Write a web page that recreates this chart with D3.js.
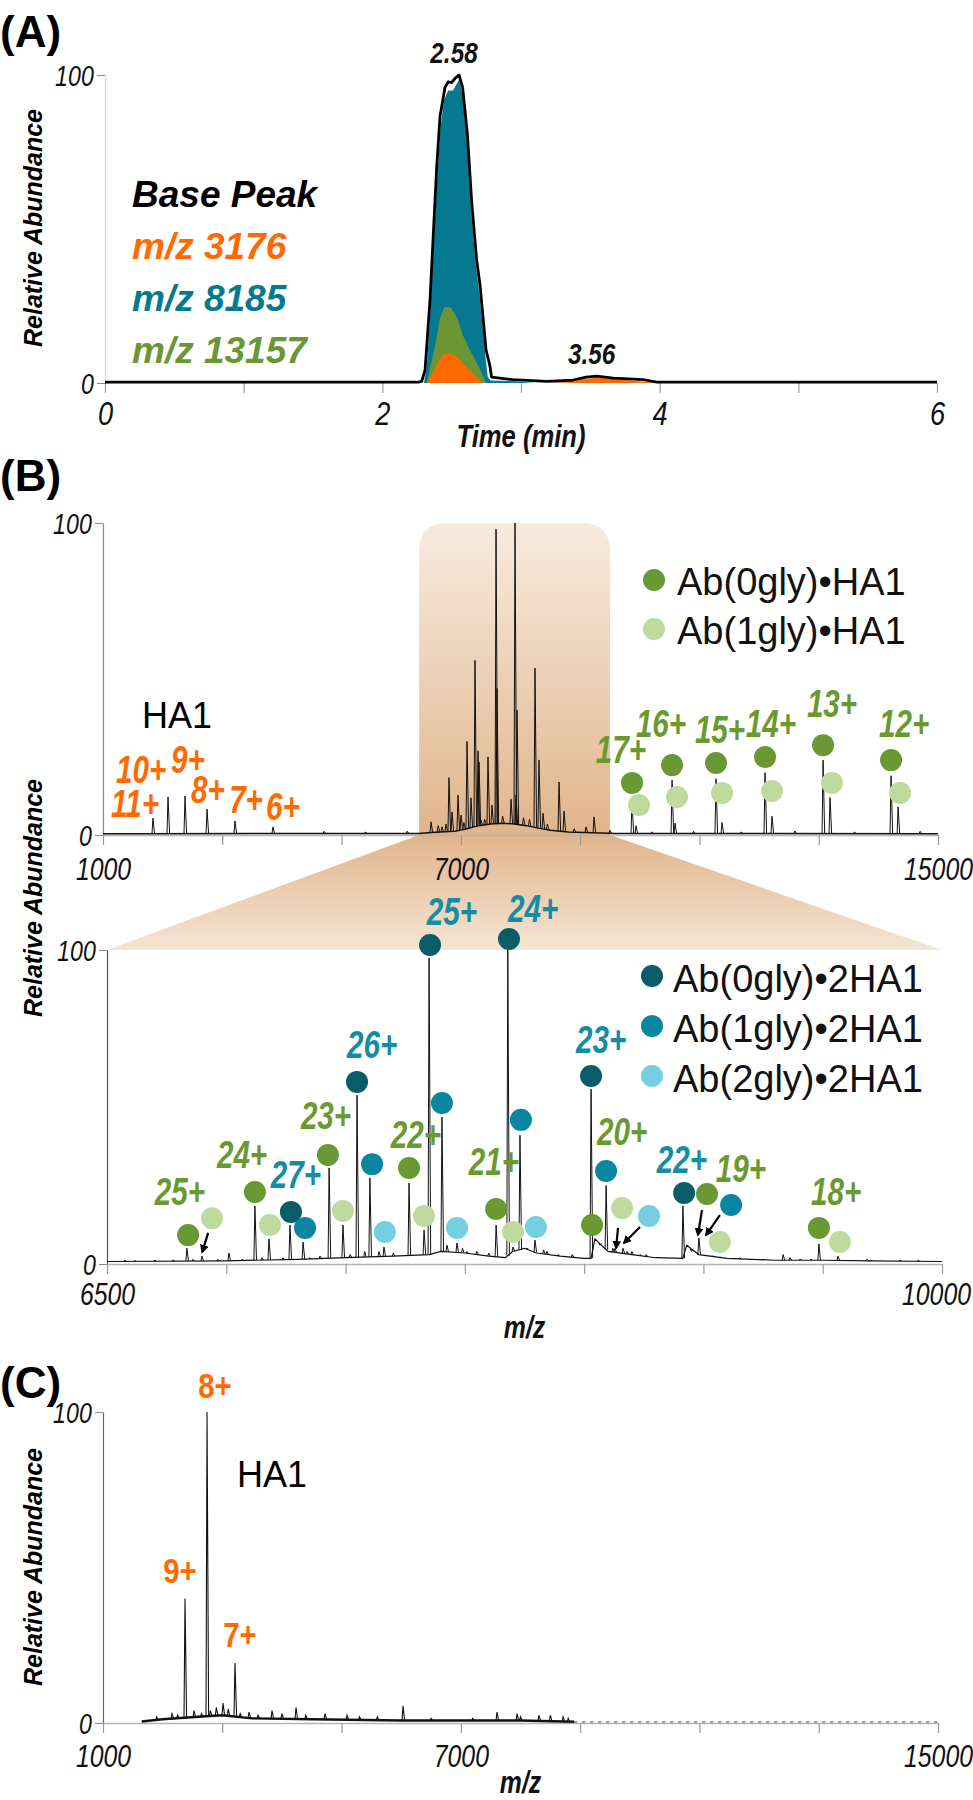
<!DOCTYPE html>
<html>
<head>
<meta charset="utf-8">
<script src="https://cdn.jsdelivr.net/npm/d3@7"></script>
<style>
  body { margin: 0; background: #fff; }
  svg { display: block; }
</style>
</head>
<body>
<div id="chart"></div>
<script>
// ---------------- data ----------------

// (A) extracted chromatograms: time (min) / relative abundance
const basePeakTime = [0, 2.26, 2.284, 2.308, 2.344, 2.368, 2.392, 2.416, 2.452, 2.476, 2.50, 2.524, 2.553, 2.579, 2.613, 2.644, 2.68, 2.704, 2.748, 2.776, 2.788, 2.94, 3.185, 3.375, 3.47, 3.546, 3.665, 3.88, 3.98, 6];
const basePeakAbund = [0.3, 0.3, 0.5, 4.2, 27, 48.7, 70, 86.5, 96, 97.8, 97.5, 98.9, 100, 96, 81, 59, 40, 32, 10.7, 5.5, 1.9, 1.1, 0.5, 0.9, 1.9, 2.2, 1.6, 1.1, 0.3, 0.3];
const mz8185Time = [2.30, 2.32, 2.345, 2.37, 2.395, 2.42, 2.445, 2.475, 2.51, 2.535, 2.555, 2.58, 2.61, 2.64, 2.675, 2.70, 2.745, 2.76, 2.78, 2.95, 3.1];
const mz8185Abund = [0, 5, 22, 45, 66, 83, 92, 95, 95, 97, 98.5, 93, 78, 56, 38, 29, 8, 2, 0.8, 0.6, 0];
const mz13157Time = [2.32, 2.38, 2.416, 2.446, 2.476, 2.50, 2.54, 2.58, 2.625, 2.70, 2.75];
const mz13157Abund = [0, 12, 21, 24.5, 24.8, 24.3, 21, 15.6, 11.3, 4.8, 0];
const mz3176Time = [2.32, 2.38, 2.416, 2.44, 2.488, 2.536, 2.58, 2.625, 2.70, 2.72, 3.2, 3.375, 3.45, 3.546, 3.665, 3.85, 3.98];
const mz3176Abund = [0, 4.6, 7.8, 9.3, 9.6, 8.7, 6.5, 4.3, 1, 0, 0, 0.3, 1.2, 1.8, 1.3, 0.6, 0];
const timeTicks = [0, 1, 2, 3, 4, 5, 6];
const timeLabels = [0, 2, 4, 6];
const apexLabels = ["2.58", "3.56"];
const traceNames = ["Base Peak", "m/z 3176", "m/z 8185", "m/z 13157"];

// (B) full native MS spectrum, m/z 1000-15000
const fullTicks = [1000, 3000, 5000, 7000, 9000, 11000, 13000, 15000];
const fullLabels = [1000, 7000, 15000];
const fullBaseMz = [1000, 1600, 6300, 6500, 6900, 7100, 7300, 7500, 7700, 7900, 8100, 8300, 8500, 8800, 9200, 9600, 15000];
const fullBaseLevel = [0.4, 0.4, 0.5, 0.8, 1.2, 2, 3, 3.5, 3.8, 3.5, 3, 2.2, 1.5, 1, 0.7, 0.5, 0.4];
const fullPeakMz = [1838, 2090, 2375, 2744, 3213, 3850, 4706,
  6500, 6684, 6801, 6852, 6952, 7003, 7103, 7170, 7237, 7288, 7305, 7338, 7455, 7522, 7590, 7606,
  7841, 7908, 7925, 7942, 8243, 8310, 8378, 8646, 8730, 9099, 9233,
  9870, 9937, 10541, 10591, 11278, 11379, 12100, 12217, 13073, 13190, 14213, 14331];
const fullPeakAbund = [5.4, 12.2, 12.5, 8.3, 4.5, 2.6, 1.2,
  4.2, 2.6, 18.4, 7.4, 12.8, 6.4, 30, 11.9, 56, 27, 23.4, 4.8, 25, 9.6, 98, 47,
  11.5, 100, 12.8, 40, 53.5, 24, 7, 17, 7.7, 2.6, 5.8,
  11, 3, 17.6, 3.8, 18, 4, 20, 6, 24, 12, 19, 9];
const fullMinorMz = [5400, 6100, 6620, 6750, 7050, 7400, 7700, 8050, 8150, 8450, 8900, 9500, 10200, 10900, 11700, 12600, 13600, 14700];
const fullMinorAbund = [1.0, 1.2, 3, 3.5, 4, 5, 6, 5.5, 5, 3.5, 2, 1.5, 1.0, 1.2, 1.0, 1.3, 1.0, 1.2];
const highlightMz = [6300, 9500];

const ha1Labels = ["11+", "10+", "9+", "8+", "7+", "6+"];
const ha1LabelMz = [1537, 1640, 2425, 2760, 3398, 4018];
const ha1LabelLevel = [5.8, 16.7, 19.9, 10.3, 7.1, 4.8];

const cplxLabels = ["17+", "16+", "15+", "14+", "13+", "12+"];
const cplxLabelMz = [9685, 10356, 11345, 12200, 13223, 14431];
const cplxLabelLevel = [23, 31.4, 29.5, 31.4, 37.8, 31.4];
const fullMarkerSpecies = ["g0", "g0", "g0", "g0", "g0", "g0", "g1", "g1", "g1", "g1", "g1", "g1"];
const fullMarkerMz = [9870, 10541, 11278, 12100, 13073, 14213, 9987, 10624, 11379, 12217, 13223, 14364];
const fullMarkerLevel = [16.7, 22.4, 23.1, 25, 28.8, 24, 9.6, 12.2, 13.5, 14.1, 16.7, 13.5];
const legendTop = ["Ab(0gly)•HA1", "Ab(1gly)•HA1"];

// (B) zoom, m/z 6500-10000
const zoomTicks = [6500, 7000, 7500, 8000, 8500, 9000, 9500, 10000];
const zoomLabels = [6500, 10000];
const zoomBaseMz = [6500, 7000, 7300, 7500, 7700, 7850, 7900, 8000, 8100, 8170, 8200, 8250, 8300, 8400, 8500, 8529, 8545, 8600, 8700, 8800, 8914, 8930, 8980, 9100, 9300, 9500, 9700, 10000];
const zoomBaseLevel = [0.8, 1.0, 1.5, 2, 2.5, 3, 4, 3.5, 2.5, 2, 4, 5, 3.5, 2.5, 1.8, 1.8, 8, 4, 3, 2, 1.8, 6, 3, 1.8, 1.2, 1.2, 1.0, 0.8];
const zoomPeakMz = [6835, 6898, 7011, 7120, 7179, 7267, 7322, 7431, 7489, 7548, 7602, 7661, 7766, 7829, 7850, 7904, 7967,
  8131, 8180, 8202, 8231, 8294, 8529, 8592, 8629, 8663, 8914, 8981, 9334, 9484, 9564];
const zoomPeakAbund = [5, 2.5, 3.5, 18.5, 8, 12.4, 7, 30.6, 12.4, 53.8, 27.4, 5.4, 25.8, 10.8, 97.5, 46.8, 6.7,
  12.4, 100, 5.4, 41, 7.6, 55.7, 25, 5, 5, 18.5, 8.3, 3, 6.4, 2.5];
const zoomMinorMz = [6575, 6617, 6700, 6777, 6860, 6965, 7066, 7150, 7238, 7350, 7393, 7519, 7580, 7640, 7700, 7925, 7990, 8009, 8050, 8100,
  8260, 8330, 8344, 8390, 8450, 8566, 8620, 8680, 8700, 8734, 8760, 8950, 9040, 9069, 9124, 9150, 9250, 9363, 9405, 9450, 9686, 9700, 9824, 9900];
const zoomMinorAbund = [1.2, 1.0, 1.2, 1.3, 1.5, 1.5, 1.5, 2, 2, 2, 2.5, 3, 4, 4, 3.5, 6, 5, 4, 4, 3.5,
  5, 4.5, 4, 3, 3, 6, 5, 4, 4, 3, 3, 4, 2.5, 2, 1.8, 2, 1.5, 2, 1.5, 1.5, 1.5, 1.2, 1.2, 1.2];
const zoomMarkerSpecies = ["g0", "g1", "g0", "g1", "t0", "t1", "g0", "g1", "t0", "t1", "t2", "g0", "g1", "t0", "t1", "t2",
  "g0", "t0", "g1", "t1", "t2", "t0", "g0", "t1", "g1", "t2", "t0", "g0", "t1", "g1", "g0", "g1"];
const zoomMarkerMz = [6840, 6940, 7120, 7183, 7271, 7330, 7426, 7489, 7548, 7611, 7665, 7766, 7829, 7854, 7904, 7967,
  8131, 8185, 8202, 8235, 8298, 8529, 8533, 8592, 8659, 8772, 8919, 9015, 9116, 9069, 9484, 9572];
const zoomMarkerLevel = [9.2, 14.6, 22.9, 12.4, 16.6, 11.5, 34.7, 16.9, 58, 31.8, 10.2, 30.6, 15.3, 101.6, 51.3, 11.5,
  17.5, 103.5, 10.2, 45.9, 11.8, 59.9, 12.4, 29.6, 17.8, 15.3, 22.6, 22.3, 18.8, 7.0, 11.5, 7.0];
const zoomLabelText = ["25+", "24+", "27+", "23+", "26+", "22+", "21+", "25+", "24+", "23+", "20+", "22+", "19+", "18+"];
const zoomLabelSeries = ["g", "g", "t", "g", "t", "g", "g", "t", "t", "t", "g", "t", "g", "g"];
const zoomLabelMz = [6806, 7066, 7292, 7418, 7611, 7795, 8122, 7946, 8286, 8571, 8659, 8910, 9157, 9556];
const zoomLabelLevel = [18.8, 30.6, 24.2, 43, 65.6, 36.9, 28.3, 108, 108.9, 67.2, 37.9, 29, 26.1, 18.8];
const zoomArrowFromMz = [6924, 8642, 8734, 8994, 9069];
const zoomArrowFromLevel = [9.9, 11.5, 11.8, 17.2, 15.6];
const zoomArrowToMz = [6899, 8634, 8667, 8977, 9011];
const zoomArrowToLevel = [3.8, 5.1, 6.7, 9.2, 9.2];
const legendBottom = ["Ab(0gly)•2HA1", "Ab(1gly)•2HA1", "Ab(2gly)•2HA1"];

// (C) HA1 alone
const haBaseMz = [1650, 2000, 2600, 3000, 3500, 4500, 6000, 8000, 8900];
const haBaseLevel = [0.5, 1.2, 2, 2.5, 1.5, 1.2, 0.8, 0.8, 0.4];
const haPeakMz = [2375, 2744, 3213];
const haPeakAbund = [40, 100, 19.3];
const haMinorMz = [1900, 2157, 2250, 2526, 2650, 2800, 2900, 3012, 3100, 3300, 3448, 3600, 3834, 4000, 4236, 4400, 4722, 5091, 5300, 5600,
  6030, 6500, 7200, 7606, 7942, 8000, 8310, 8500, 8713, 8800];
const haMinorAbund = [2, 3, 2.5, 4, 3, 4, 5, 6.4, 4.5, 3, 3.5, 2.5, 4, 3, 5, 2.5, 3, 2.5, 2, 2,
  5.5, 1.5, 1.5, 3.5, 3, 2, 2.5, 2.5, 2, 1.5];
const haLabels = ["9+", "8+", "7+"];
const haLabelMz = [2291, 2878, 3297];
const haLabelLevel = [45, 104.5, 24.4];

// ---------------- style ----------------
const colors = {
  orange: "#ff6a00", teal: "#05798f", green: "#6b9633",
  g0: "#6a9834", g1: "#bfda9f", t0: "#0b5c69", t1: "#0a86a0", t2: "#76cfe1",
  gText: "#6a9a2f", tText: "#138ca4"
};
const font = "'Liberation Sans', Arial, sans-serif";

const svg = d3.select("#chart").append("svg").attr("width", 973).attr("height", 1800);
const defs = svg.append("defs");

// condensed text: Liberation Sans squeezed horizontally
function ntext(g, x, y, str, o) {
  return g.append("g").attr("transform", `translate(${x},${y}) scale(${o.sx || 0.8},1)`)
    .append("text")
    .attr("text-anchor", o.anchor || "middle")
    .attr("font-family", font)
    .attr("font-size", o.size)
    .attr("font-weight", o.weight || "normal")
    .attr("font-style", o.style || "normal")
    .attr("fill", o.fill || "#111")
    .text(str);
}

function panelLetter(txt, y) {
  svg.append("text").attr("x", 0).attr("y", y)
    .attr("font-family", font).attr("font-size", 44).attr("font-weight", "bold")
    .text(txt);
}

function yTitle(cy) {
  svg.append("text")
    .attr("transform", `translate(42,${cy}) rotate(-90)`)
    .attr("text-anchor", "middle")
    .attr("font-family", font).attr("font-size", 25)
    .attr("font-weight", "bold").attr("font-style", "italic")
    .text("Relative Abundance");
}

function bottomAxis(x, y0, ticks, labels, o) {
  const a = svg.append("g").attr("transform", `translate(0,${y0})`)
    .call(d3.axisBottom(x).tickValues(ticks).tickSize(10).tickSizeOuter(0)
      .tickPadding(o.pad).tickFormat(d => labels.includes(d) ? d : ""));
  a.select(".domain").attr("stroke", o.domain || "#b5b5b5").attr("stroke-width", 1.5);
  a.selectAll(".tick line").attr("stroke", "#999").attr("stroke-width", 1.2);
  a.selectAll(".tick text")
    .attr("font-family", font).attr("font-size", o.size)
    .attr("font-style", "italic").attr("fill", "#111")
    .attr("transform", d => `translate(${d === o.nudge ? -6 : 0},0) scale(0.8,1)`);
  return a;
}

function leftAxis(y, x0, color) {
  const a = svg.append("g").attr("transform", `translate(${x0},0)`)
    .call(d3.axisLeft(y).tickValues([0, 100]).tickSize(8).tickSizeOuter(0).tickPadding(6));
  a.select(".domain").attr("stroke", color).attr("stroke-width", 1.2);
  a.selectAll(".tick line").attr("stroke", "#888");
  a.selectAll(".tick text")
    .attr("font-family", font).attr("font-size", 29)
    .attr("font-style", "italic").attr("fill", "#111").attr("dy", "0.36em")
    .attr("transform", "scale(0.8,1)");
  return a;
}

function spectrum(g, x, y, baseMz, baseLevel, peakMz, peakAbund, minorMz, minorAbund, o) {
  const knots = d3.zip(baseMz, baseLevel);
  const base = d3.scaleLinear().domain(baseMz).range(baseLevel).clamp(true);
  g.append("path")
    .attr("d", d3.line().x(d => x(d[0])).y(d => y(d[1]))(knots))
    .attr("fill", "none").attr("stroke", "#111").attr("stroke-width", o.baseWidth || 1.2);
  const sticks = d3.zip(minorMz, minorAbund).concat(d3.zip(peakMz, peakAbund));
  g.selectAll(null).data(sticks).enter().append("path")
    .attr("d", d => {
      const px = x(d[0]), yb = y(base(d[0])), yh = y(d[1]);
      return `M${px - 1},${yb}L${px},${yh}L${px + 1.6},${yb}`;
    })
    .attr("fill", "none").attr("stroke", "#111").attr("stroke-width", o.stickWidth || 1);
}

// ---------------- (A) ----------------
const xA = d3.scaleLinear().domain([0, 6]).range([105, 937]);
const yA = d3.scaleLinear().domain([0, 100]).range([383, 75]);

panelLetter("(A)", 47);
yTitle(228);
leftAxis(yA, 105, "#d6d6d6");
bottomAxis(xA, 383, timeTicks, timeLabels, { pad: 8, size: 34, domain: "none" });

const areaA = d3.area().x(d => xA(d[0])).y0(yA(0)).y1(d => yA(d[1]));
const gA = svg.append("g");
gA.append("path").attr("d", areaA(d3.zip(mz8185Time, mz8185Abund))).attr("fill", colors.teal);
gA.append("path").attr("d", areaA(d3.zip(mz13157Time, mz13157Abund))).attr("fill", colors.green);
gA.append("path").attr("d", areaA(d3.zip(mz3176Time, mz3176Abund))).attr("fill", colors.orange);
gA.append("path")
  .attr("d", d3.line().x(d => xA(d[0])).y(d => yA(d[1]))(d3.zip(basePeakTime, basePeakAbund)))
  .attr("fill", "none").attr("stroke", "#000").attr("stroke-width", 2.8).attr("stroke-linejoin", "round");

// apex labels: nearest local maximum of the base peak trace
const basePts = d3.zip(basePeakTime, basePeakAbund);
apexLabels.forEach(lab => {
  const t = +lab;
  const near = basePts.filter(d => Math.abs(d[0] - t) < 0.2);
  const apex = near.reduce((m, d) => d[1] > m[1] ? d : m);
  ntext(svg, xA(apex[0]) - 5, yA(apex[1]) - 12, lab, { size: 29, weight: "bold", style: "italic", sx: 0.84 });
});

const traceColors = ["#000", colors.orange, colors.teal, colors.green];
traceNames.forEach((n, i) => {
  svg.append("text").attr("x", 132).attr("y", 207 + i * 52)
    .attr("font-family", font).attr("font-size", 37)
    .attr("font-weight", "bold").attr("font-style", "italic")
    .attr("fill", traceColors[i]).text(n);
});
ntext(svg, xA(3), 447, "Time (min)", { size: 32, weight: "bold", style: "italic" });

// ---------------- (B) full spectrum ----------------
const xB = d3.scaleLinear().domain([1000, 15000]).range([103, 938]);
const yB = d3.scaleLinear().domain([0, 100]).range([835, 523]);
const xZ = d3.scaleLinear().domain([6500, 10000]).range([107, 942]);
const yZ = d3.scaleLinear().domain([0, 100]).range([1264, 950]);

panelLetter("(B)", 491);

// highlight box and zoom trapezoid
const gradBox = defs.append("linearGradient").attr("id", "gBox").attr("x1", 0).attr("y1", 0).attr("x2", 0).attr("y2", 1);
gradBox.append("stop").attr("offset", "0%").attr("stop-color", "#f7ebdf");
gradBox.append("stop").attr("offset", "100%").attr("stop-color", "#e1b58b");
const gradTrap = defs.append("linearGradient").attr("id", "gTrap").attr("x1", 0).attr("y1", 0).attr("x2", 0).attr("y2", 1);
gradTrap.append("stop").attr("offset", "0%").attr("stop-color", "#e1b58b");
gradTrap.append("stop").attr("offset", "100%").attr("stop-color", "#f5e5d5");

const hx0 = xB(highlightMz[0]), hx1 = xB(highlightMz[1]), hTop = yB(100), hBot = yB(0), r = 28;
svg.append("path")
  .attr("d", `M${hx0},${hBot}L${hx0},${hTop + r}Q${hx0},${hTop} ${hx0 + r},${hTop}L${hx1 - r},${hTop}Q${hx1},${hTop} ${hx1},${hTop + r}L${hx1},${hBot}Z`)
  .attr("fill", "url(#gBox)");
svg.append("path")
  .attr("d", `M${hx0},${hBot}L${hx1},${hBot}L${xZ(10000)},${yZ(100)}L${xZ(6500)},${yZ(100)}Z`)
  .attr("fill", "url(#gTrap)");

leftAxis(yB, 103, "#8a8a8a");
bottomAxis(xB, 835, fullTicks, fullLabels, { pad: 13, size: 31 });
spectrum(svg.append("g"), xB, yB, fullBaseMz, fullBaseLevel, fullPeakMz, fullPeakAbund, fullMinorMz, fullMinorAbund, { baseWidth: 1.5 });

svg.append("text").attr("x", 142).attr("y", 728)
  .attr("font-family", font).attr("font-size", 36).text("HA1");

ha1Labels.forEach((l, i) => {
  ntext(svg, xB(ha1LabelMz[i]), yB(ha1LabelLevel[i]), l, { size: 38, weight: "bold", style: "italic", sx: 0.78, fill: colors.orange });
});
fullMarkerSpecies.forEach((s, i) => {
  svg.append("circle").attr("cx", xB(fullMarkerMz[i])).attr("cy", yB(fullMarkerLevel[i]))
    .attr("r", 11).attr("fill", colors[s]);
});
cplxLabels.forEach((l, i) => {
  ntext(svg, xB(cplxLabelMz[i]), yB(cplxLabelLevel[i]), l, { size: 38, weight: "bold", style: "italic", sx: 0.78, fill: colors.gText });
});

["g0", "g1"].forEach((s, i) => {
  svg.append("circle").attr("cx", 654).attr("cy", 580 + i * 49).attr("r", 11).attr("fill", colors[s]);
  svg.append("text").attr("x", 677).attr("y", 595 + i * 49)
    .attr("font-family", font).attr("font-size", 38).attr("fill", "#111").text(legendTop[i]);
});

// ---------------- (B) zoom ----------------
leftAxis(yZ, 107, "#555");
bottomAxis(xZ, 1264, zoomTicks, zoomLabels, { pad: 9, size: 31, nudge: 10000 });
spectrum(svg.append("g"), xZ, yZ, zoomBaseMz, zoomBaseLevel, zoomPeakMz, zoomPeakAbund, zoomMinorMz, zoomMinorAbund, { baseWidth: 1.2 });
yTitle(898);

defs.append("marker").attr("id", "arrow").attr("viewBox", "0 0 10 10")
  .attr("refX", 8).attr("refY", 5).attr("markerWidth", 4).attr("markerHeight", 4)
  .attr("orient", "auto")
  .append("path").attr("d", "M0,0L10,5L0,10Z").attr("fill", "#000");
zoomArrowFromMz.forEach((m, i) => {
  svg.append("line")
    .attr("x1", xZ(m)).attr("y1", yZ(zoomArrowFromLevel[i]))
    .attr("x2", xZ(zoomArrowToMz[i])).attr("y2", yZ(zoomArrowToLevel[i]))
    .attr("stroke", "#000").attr("stroke-width", 2.2).attr("marker-end", "url(#arrow)");
});

zoomMarkerSpecies.forEach((s, i) => {
  svg.append("circle").attr("cx", xZ(zoomMarkerMz[i])).attr("cy", yZ(zoomMarkerLevel[i]))
    .attr("r", 11).attr("fill", colors[s]);
});
zoomLabelText.forEach((l, i) => {
  ntext(svg, xZ(zoomLabelMz[i]), yZ(zoomLabelLevel[i]), l, {
    size: 38, weight: "bold", style: "italic", sx: 0.78,
    fill: zoomLabelSeries[i] === "g" ? colors.gText : colors.tText
  });
});
["t0", "t1", "t2"].forEach((s, i) => {
  svg.append("circle").attr("cx", 652).attr("cy", 976 + i * 50).attr("r", 11).attr("fill", colors[s]);
  svg.append("text").attr("x", 673).attr("y", 992 + i * 50)
    .attr("font-family", font).attr("font-size", 38).attr("fill", "#111").text(legendBottom[i]);
});
ntext(svg, (xZ.range()[0] + xZ.range()[1]) / 2, 1338, "m/z", { size: 31, weight: "bold", style: "italic" });

// ---------------- (C) ----------------
const xC = d3.scaleLinear().domain([1000, 15000]).range([103, 938]);
const yC = d3.scaleLinear().domain([0, 100]).range([1723, 1412]);

panelLetter("(C)", 1398);
yTitle(1567);
leftAxis(yC, 103, "#666");
bottomAxis(xC, 1723, fullTicks, fullLabels, { pad: 12, size: 31 });
svg.append("line")
  .attr("x1", xC(8900)).attr("x2", xC(15000)).attr("y1", yC(0.3)).attr("y2", yC(0.3))
  .attr("stroke", "#777").attr("stroke-width", 1.5).attr("stroke-dasharray", "3,5");
spectrum(svg.append("g"), xC, yC, haBaseMz, haBaseLevel, haPeakMz, haPeakAbund, haMinorMz, haMinorAbund, { baseWidth: 2.4, stickWidth: 1.1 });
haLabels.forEach((l, i) => {
  ntext(svg, xC(haLabelMz[i]), yC(haLabelLevel[i]), l, { size: 35, weight: "bold", sx: 0.84, fill: colors.orange });
});
svg.append("text").attr("x", 237).attr("y", 1487)
  .attr("font-family", font).attr("font-size", 36).text("HA1");
ntext(svg, (xC.range()[0] + xC.range()[1]) / 2, 1793, "m/z", { size: 31, weight: "bold", style: "italic" });
</script>
</body>
</html>
